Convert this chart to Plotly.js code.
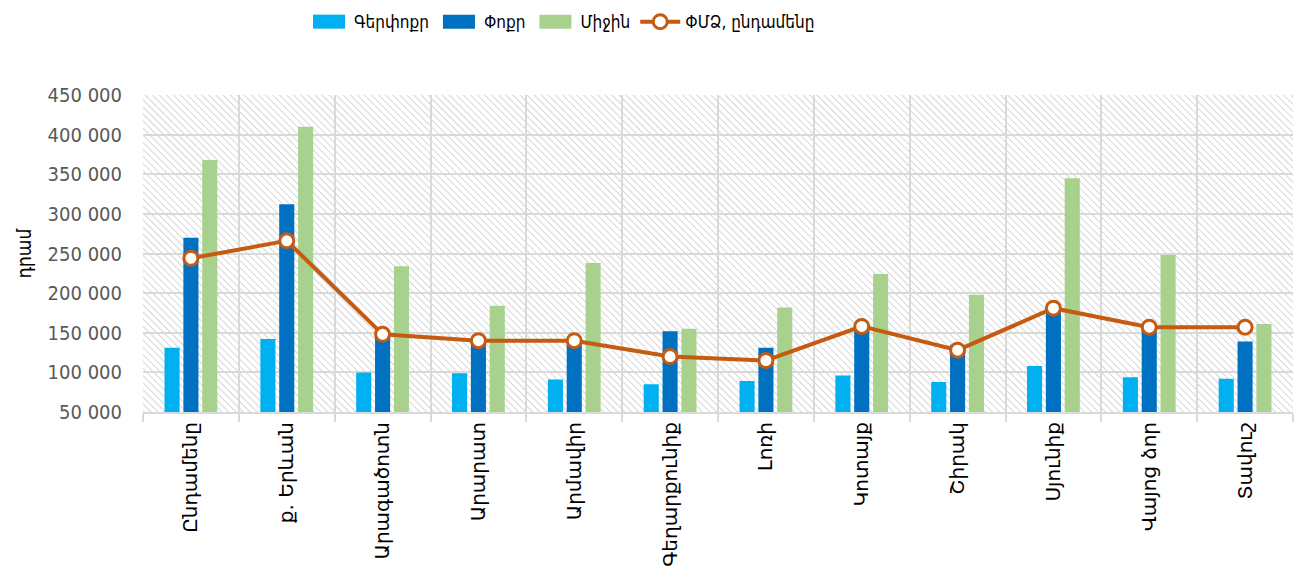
<!DOCTYPE html>
<html>
<head>
<meta charset="utf-8">
<script src="https://cdn.plot.ly/plotly-3.0.1.min.js"></script>
<style>
  html, body { margin: 0; padding: 0; background: #fff; }
  #chart { width: 1296px; height: 584px; }
</style>
</head>
<body>
<div id="chart"></div>
<script>
// categories (regions)
var regions = ["Ընդամենը", "ք. Երևան", "Արագածոտն", "Արարատ", "Արմավիր", "Գեղարքունիք",
               "Լոռի", "Կոտայք", "Շիրակ", "Սյունիք", "Վայոց ձոր", "Տավուշ"];

// series values, dram
var micro  = [131000, 142000, 100000,  99000,  91000,  85000,  89000,  96000,  88000, 108000,  94000,  92000];
var small  = [270000, 312000, 146000, 138000, 138000, 152000, 131000, 156000, 135000, 177000, 154000, 139000];
var medium = [368000, 410000, 234000, 184000, 238000, 155000, 182000, 224000, 198000, 345000, 248000, 161000];
var smeAll = [244000, 266000, 148000, 140000, 140000, 120000, 115000, 158000, 128000, 181000, 157000, 157000];

var seriesNames = ["Գերփոքր", "Փոքր", "Միջին", "ՓՄՁ, ընդամենը"];
var yTitle = "դրամ";

var font = "'DejaVu Sans Condensed', 'DejaVu Sans', sans-serif";
var wideFont = "'DejaVu Sans', sans-serif";
var gridColor = "#d9d9d9";

var data = [
  {type: "bar", name: seriesNames[0], x: regions, y: micro,  marker: {color: "#00b0f0"}},
  {type: "bar", name: seriesNames[1], x: regions, y: small,  marker: {color: "#0070c0"}},
  {type: "bar", name: seriesNames[2], x: regions, y: medium, marker: {color: "#a9d18e"}},
  {type: "scatter", mode: "lines+markers", name: seriesNames[3], x: regions, y: smeAll,
   line: {color: "#c55a11", width: 4},
   marker: {color: "#ffffff", size: 14, line: {color: "#c55a11", width: 3}}}
];

var layout = {
  width: 1296,
  height: 584,
  margin: {l: 143, r: 3, t: 95, b: 172},
  paper_bgcolor: "#ffffff",
  plot_bgcolor: "#f3f3f3",
  separators: ". ",
  barmode: "group",
  bargap: 0.41,
  bargroupgap: 0.2,
  font: {family: font, size: 17, color: "#595959"},
  showlegend: true,
  legend: {
    orientation: "h",
    x: 0.14, xanchor: "left",
    y: 1.23, yanchor: "middle",
    font: {family: font, size: 17, color: "#000000"},
    traceorder: "normal",
    itemwidth: 40
  },
  xaxis: {
    type: "category",
    range: [-0.5, 11.5],
    tickson: "boundaries",
    showgrid: true,
    gridcolor: gridColor,
    gridwidth: 2,
    showline: true,
    linecolor: gridColor,
    linewidth: 2,
    ticks: "outside",
    ticklen: 8,
    tickwidth: 2,
    tickcolor: gridColor,
    tickangle: -90,
    tickfont: {family: wideFont, size: 20, color: "#000000"},
    automargin: false
  },
  yaxis: {
    range: [50000, 450000],
    dtick: 50000,
    tickformat: ",d",
    showgrid: true,
    gridcolor: gridColor,
    gridwidth: 2,
    zeroline: false,
    showline: false,
    ticks: "",
    ticklabelstandoff: 20,
    tickfont: {family: font, size: 20, color: "#595959"},
    title: {text: yTitle, font: {family: font, size: 19, color: "#000000"}, standoff: 10},
    automargin: false
  }
};

Plotly.newPlot("chart", data, layout, {displayModeBar: false, staticPlot: true}).then(function () {
  var svg = document.querySelector("#chart svg.main-svg");
  var ns = "http://www.w3.org/2000/svg";
  // diagonal hatch behind the plot area
  var defs = svg.querySelector("defs") || svg.insertBefore(document.createElementNS(ns, "defs"), svg.firstChild);
  var pat = document.createElementNS(ns, "pattern");
  pat.setAttribute("id", "hatch");
  pat.setAttribute("patternUnits", "userSpaceOnUse");
  pat.setAttribute("width", "5");
  pat.setAttribute("height", "5");
  pat.setAttribute("patternTransform", "rotate(-45)");
  var r = document.createElementNS(ns, "rect");
  r.setAttribute("width", "5"); r.setAttribute("height", "5"); r.setAttribute("fill", "#ffffff");
  var ln = document.createElementNS(ns, "line");
  ln.setAttribute("x1", "0"); ln.setAttribute("y1", "0");
  ln.setAttribute("x2", "0"); ln.setAttribute("y2", "5");
  ln.setAttribute("stroke", "#d6d6d6"); ln.setAttribute("stroke-width", "2");
  pat.appendChild(r); pat.appendChild(ln);
  defs.appendChild(pat);
  var bg = document.querySelector("#chart rect.bg");
  if (bg) bg.style.fill = "url(#hatch)";
  // wider legend swatches for the bar series, like the original
  document.querySelectorAll("#chart .legend .traces").forEach(function (t, i) {
    if (i > 2) return;
    t.querySelectorAll(".legendpoints path").forEach(function (p) {
      p.setAttribute("d", "M16,7H-16V-7H16Z");
    });
  });
});
</script>
</body>
</html>
